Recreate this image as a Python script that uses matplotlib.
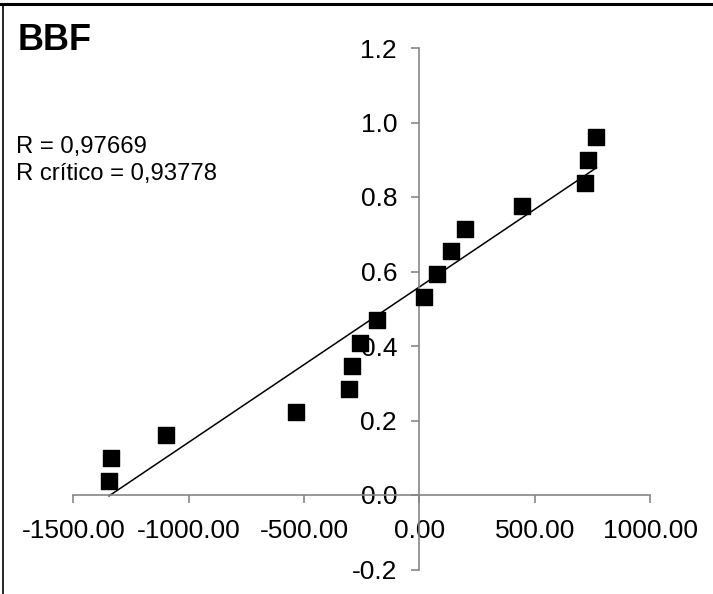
import numpy as np
import matplotlib
matplotlib.use("Agg")
import matplotlib.pyplot as plt
from matplotlib.lines import Line2D
from matplotlib.ticker import FormatStrFormatter

plt.rcParams['font.family'] = ['Liberation Sans', 'DejaVu Sans']

# BBF values vs. normal plotting positions
x_vals = [-1345, -1337, -1098, -534, -304, -291, -256, -182,
          22, 78, 139, 200, 447, 720, 733, 768]
p_vals = [0.038, 0.100, 0.162, 0.223, 0.285, 0.346, 0.408, 0.469,
          0.531, 0.592, 0.654, 0.715, 0.777, 0.838, 0.900, 0.962]
x_ticks = [-1500, -1000, -500, 0, 500, 1000]
y_ticks = [-0.2, 0.0, 0.2, 0.4, 0.6, 0.8, 1.0, 1.2]
title = "BBF"
r_lines = ["R = 0,97669", "R crítico = 0,93778"]

W, H = 713, 594
fig = plt.figure(figsize=(W / 100, H / 100), dpi=100)
ax = fig.add_axes([73.3 / W, 1 - 569.5 / H, (650 - 73.3) / W, (569.5 - 48) / H])

ax.scatter(x_vals, p_vals, marker='s', s=135, c='black', zorder=3)

# linear trend line over the data range
slope, icept = np.polyfit(x_vals, p_vals, 1)
xl = np.array([min(x_vals), max(x_vals)])
ax.plot(xl, slope * xl + icept, color='black', lw=1.1, zorder=2)

ax.set_xlim(-1500, 1000)
ax.set_ylim(-0.2, 1.2)
ax.set_xticks(x_ticks)
ax.set_yticks(y_ticks)
ax.xaxis.set_major_formatter(FormatStrFormatter('%.2f'))
ax.yaxis.set_major_formatter(FormatStrFormatter('%.1f'))

axis_grey = '#868686'
for side in ['top', 'right']:
    ax.spines[side].set_visible(False)
ax.spines['left'].set_position(('data', 0))
ax.spines['bottom'].set_position(('data', 0))
for side in ['left', 'bottom']:
    ax.spines[side].set_color(axis_grey)
    ax.spines[side].set_linewidth(1.2)
ax.tick_params(axis='both', direction='out', length=6, width=1.2,
               color=axis_grey, labelsize=19, labelcolor='black')
ax.tick_params(axis='x', pad=11)
ax.tick_params(axis='y', pad=10)
ax.patch.set_alpha(0)

fig.text(18 / W, 1 - 50 / H, title, fontsize=26, fontweight='bold',
         ha='left', va='baseline')
for i, line in enumerate(r_lines):
    fig.text(16 / W, 1 - (153 + 27 * i) / H, line, fontsize=17.2,
             ha='left', va='baseline')

# chart frame edges
fig.add_artist(Line2D([0, 1], [1 - 4 / H, 1 - 4 / H], color='black', lw=2.2))
fig.add_artist(Line2D([3 / W, 3 / W], [0, 1 - 4 / H], color='black', lw=1.2))

fig.savefig('out.png', dpi=100)
